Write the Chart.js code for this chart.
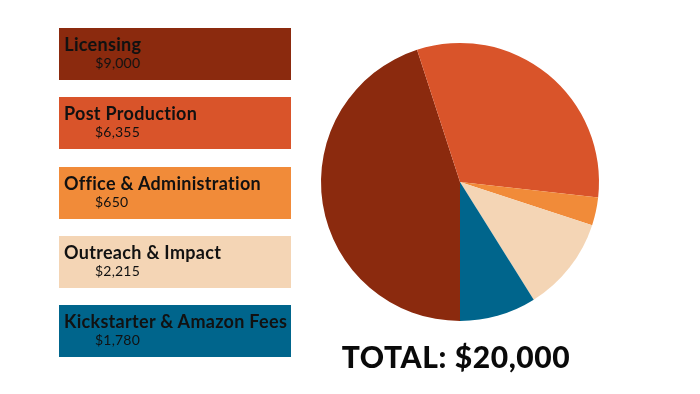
<!DOCTYPE html>
<html>
<head>
<meta charset="utf-8">
<script src="https://cdn.jsdelivr.net/npm/chart.js@4"></script>
<style>
  html, body { margin: 0; padding: 0; background: #fff; }
  #wrap { position: relative; width: 700px; height: 394px; overflow: hidden; font-family: Lato, "Open Sans", sans-serif; }
  #budgetChart { position: absolute; left: 0; top: 0; }
  .item { position: absolute; left: 59px; width: 232px; height: 52px; box-sizing: border-box; color: #111; }
  .item .name { position: absolute; left: 5px; top: 5px; font-weight: 700; font-size: 18px; letter-spacing: 0.3px; white-space: nowrap; }
  .item .amt { position: absolute; left: 36px; top: 26px; font-size: 14px; font-weight: 400; letter-spacing: 0.2px; }
  #total { position: absolute; left: 340px; top: 338px; width: 232px; text-align: center; font-weight: 900; font-size: 30px; letter-spacing: 0.6px; color: #0a0a0a; white-space: nowrap; }
</style>
</head>
<body>
<div id="wrap">
  <canvas id="budgetChart" width="700" height="394"></canvas>
  <div id="legend"></div>
  <div id="total"></div>
</div>
<script>
const categories = ['Licensing', 'Post Production', 'Office & Administration', 'Outreach & Impact', 'Kickstarter & Amazon Fees'];
const amounts = [9000, 6355, 650, 2215, 1780];
const colors = ['#8b2a0e', '#d9542a', '#f18b39', '#f4d5b5', '#00658c'];
const legendTops = [28, 97, 167, 236, 305];

const fmt = (v) => '$' + v.toLocaleString('en-US');

const legend = document.getElementById('legend');
categories.forEach((name, i) => {
  const box = document.createElement('div');
  box.className = 'item';
  box.style.top = legendTops[i] + 'px';
  box.style.background = colors[i];
  box.innerHTML = `<div class="name">${name}</div><div class="amt">${fmt(amounts[i])}</div>`;
  legend.appendChild(box);
});

const total = amounts.reduce((a, b) => a + b, 0);
document.getElementById('total').textContent = 'TOTAL: ' + fmt(total);

new Chart(document.getElementById('budgetChart'), {
  type: 'pie',
  data: {
    labels: categories,
    datasets: [
      {
        data: amounts,
        backgroundColor: colors,
        borderWidth: 0,
      },
    ],
  },
  options: {
    responsive: false,
    animation: false,
    rotation: 180,
    layout: { padding: { left: 321, right: 101, top: 43, bottom: 73 } },
    plugins: {
      legend: { display: false },
      tooltip: { enabled: false },
    },
  },
});
</script>
</body>
</html>
